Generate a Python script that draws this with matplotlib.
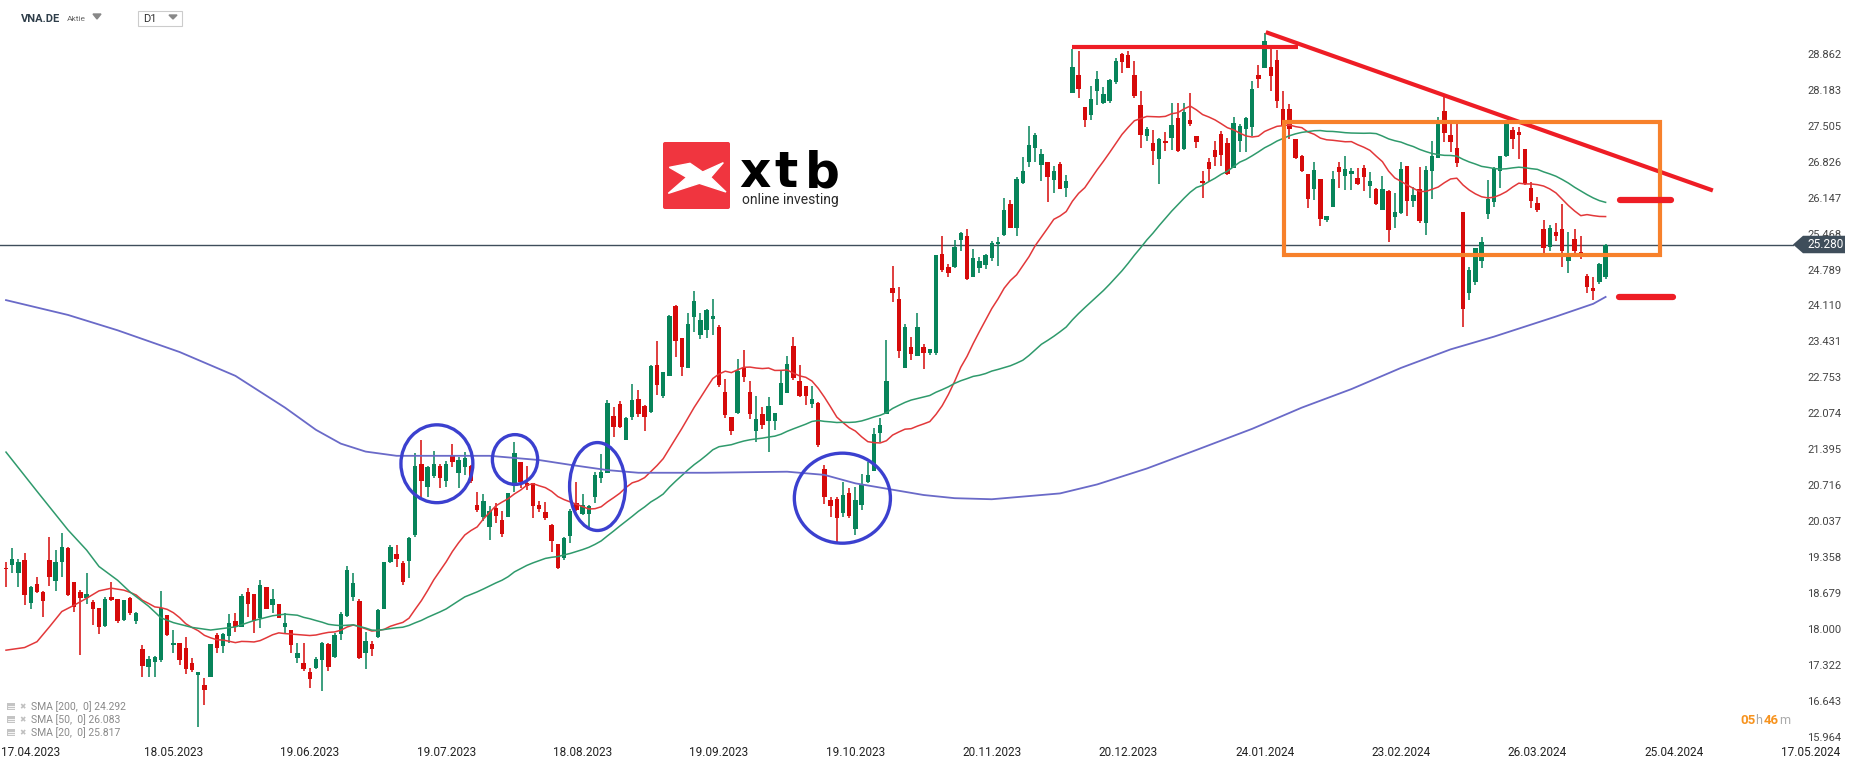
import numpy as np
import pandas as pd
import matplotlib
matplotlib.use('Agg')
import matplotlib.pyplot as plt
from matplotlib.patches import Ellipse, Rectangle, Polygon, FancyBboxPatch

plt.rcParams['font.family'] = ['Roboto', 'DejaVu Sans']

# daily candles VNA.DE
opens = [19.18, 19.23, 19.08, 19.32, 18.52, 18.87, 18.72, 19.32, 18.93, 19.29,
         19.55, 18.90, 18.72, 18.61, 18.53, 18.41, 18.08, 18.62, 18.59, 18.19,
         18.60, 18.18, 17.64, 17.31, 17.40, 17.43, 18.28, 17.71, 17.75, 17.67,
         17.37, 17.16, 16.96, 17.11, 17.91, 17.69, 17.89, 18.18, 18.06, 18.72,
         18.69, 18.22, 18.82, 18.47, 18.49, 18.05, 18.00, 17.48, 17.37, 17.20,
         17.28, 17.43, 17.74, 17.49, 17.93, 18.27, 18.62, 18.54, 17.57, 17.74,
         17.86, 18.39, 19.29, 19.44, 19.26, 19.31, 19.80, 21.14, 20.71, 20.91,
         21.10, 20.82, 21.31, 20.96, 21.07, 21.10, 20.36, 20.14, 19.95, 20.30,
         20.08, 20.14, 20.76, 21.18, 20.78, 20.77, 20.36, 20.23, 19.98, 19.63,
         19.36, 19.78, 20.39, 20.20, 20.20, 20.52, 20.88, 20.97, 22.04, 22.27,
         21.58, 22.03, 22.36, 22.23, 22.11, 23.01, 22.42, 22.80, 24.11, 23.51,
         22.94, 23.91, 23.57, 23.67, 23.87, 23.72, 22.50, 22.02, 22.09, 22.94,
         22.50, 21.75, 22.08, 21.95, 21.95, 22.25, 22.48, 23.36, 22.71, 22.61,
         22.27, 22.28, 21.05, 20.46, 20.47, 20.21, 20.58, 19.90, 20.36, 20.80,
         21.01, 21.73, 22.08, 24.45, 24.26, 22.94, 23.34, 23.18, 23.35, 23.24,
         23.24, 25.11, 24.85, 24.85, 25.37, 25.44, 24.67, 24.83, 24.89, 25.02,
         25.29, 25.46, 26.04, 25.60, 26.44, 26.84, 27.10, 26.78, 26.83, 26.49,
         26.80, 26.34, 28.15, 28.49, 27.88, 27.73, 28.18, 27.95, 27.99, 28.34,
         28.87, 28.85, 28.48, 27.91, 27.32, 27.19, 26.89, 27.23, 27.30, 27.66,
         27.08, 27.63, 27.32, 26.48, 26.83, 27.06, 27.36, 27.19, 26.73, 27.23,
         27.46, 27.49, 28.48, 28.61, 28.64, 28.76, 27.84, 27.84, 27.27, 26.96,
         26.62, 26.33, 26.52, 25.74, 25.98, 26.75, 26.58, 26.61, 26.54, 26.72,
         26.39, 26.33, 25.93, 26.29, 25.79, 25.87, 26.76, 26.11, 26.32, 25.69,
         26.66, 26.91, 27.80, 27.35, 27.11, 25.90, 24.36, 24.58, 24.97, 25.86,
         26.09, 26.66, 26.95, 27.45, 27.41, 27.08, 26.34, 26.06, 25.57, 25.23,
         25.52, 25.57, 24.97, 25.38, 25.14, 24.68, 24.45, 24.58, 24.66]
highs = [19.29, 19.54, 19.35, 19.45, 18.83, 19.00, 18.74, 19.76, 19.51, 19.83,
         19.57, 18.91, 18.76, 19.08, 18.57, 18.41, 18.63, 18.91, 18.59, 18.57,
         18.63, 18.35, 17.71, 17.51, 17.51, 18.74, 18.28, 18.00, 17.75, 17.86,
         17.47, 17.21, 17.09, 17.74, 17.94, 17.94, 18.30, 18.32, 18.69, 18.79,
         18.69, 18.95, 18.82, 18.77, 18.49, 18.32, 18.00, 17.76, 17.75, 17.28,
         17.50, 17.78, 17.75, 17.94, 18.35, 19.21, 19.08, 18.58, 17.97, 17.80,
         18.39, 19.29, 19.61, 19.61, 19.30, 19.76, 21.35, 21.59, 21.09, 21.38,
         21.14, 21.20, 21.51, 21.26, 21.37, 21.12, 20.61, 20.57, 20.34, 20.39,
         20.24, 20.59, 21.56, 21.18, 21.09, 20.77, 20.44, 20.41, 20.01, 19.63,
         19.76, 20.28, 20.80, 20.57, 20.36, 20.99, 21.32, 22.34, 22.22, 22.33,
         22.03, 22.65, 22.53, 22.25, 23.01, 23.46, 22.88, 23.95, 24.14, 23.51,
         23.98, 24.41, 23.98, 24.07, 24.26, 23.76, 22.74, 22.03, 23.11, 23.29,
         22.71, 22.41, 22.21, 22.40, 22.09, 22.90, 23.18, 23.53, 23.01, 22.61,
         22.61, 22.30, 21.12, 20.52, 20.52, 20.80, 20.68, 20.71, 20.95, 21.18,
         21.81, 22.00, 23.47, 24.87, 24.47, 23.78, 23.54, 23.98, 23.41, 23.30,
         25.08, 25.44, 24.91, 25.37, 25.52, 25.57, 25.19, 25.05, 25.10, 25.35,
         25.43, 26.15, 26.12, 26.56, 26.93, 27.52, 27.39, 27.08, 26.83, 26.76,
         26.84, 26.59, 28.97, 28.93, 27.88, 28.28, 28.56, 28.26, 28.40, 28.80,
         28.89, 28.93, 28.75, 28.18, 27.49, 27.44, 27.30, 27.41, 27.96, 27.96,
         27.95, 28.15, 27.32, 26.67, 26.91, 27.23, 27.42, 27.29, 27.69, 27.55,
         27.69, 28.36, 28.66, 29.27, 28.97, 28.95, 28.18, 27.93, 27.27, 26.97,
         26.62, 26.84, 26.52, 25.81, 26.67, 26.83, 26.96, 26.73, 26.73, 26.78,
         26.64, 26.35, 26.58, 26.31, 26.25, 26.83, 26.76, 26.36, 26.74, 26.76,
         27.24, 27.69, 28.07, 27.56, 27.56, 25.90, 24.86, 25.21, 25.43, 26.50,
         26.74, 26.95, 27.64, 27.49, 27.49, 27.08, 26.46, 26.17, 25.74, 25.65,
         25.69, 26.04, 25.52, 25.57, 25.44, 24.72, 24.66, 24.94, 25.29]
lows = [18.81, 19.08, 18.81, 18.47, 18.40, 18.70, 18.25, 18.83, 18.74, 19.01,
        18.65, 18.35, 17.53, 18.49, 18.10, 17.93, 18.05, 18.55, 18.13, 18.18,
        18.28, 18.11, 17.12, 17.12, 17.12, 17.40, 17.89, 17.57, 17.34, 17.17,
        17.21, 16.16, 16.59, 17.11, 17.57, 17.57, 17.75, 17.97, 18.05, 18.24,
        17.95, 18.03, 18.39, 18.32, 18.22, 17.94, 17.56, 17.38, 17.23, 16.90,
        17.26, 16.84, 17.23, 17.47, 17.81, 18.24, 18.54, 17.46, 17.27, 17.51,
        17.85, 18.39, 19.27, 19.19, 18.85, 18.99, 19.76, 20.47, 20.52, 20.88,
        20.68, 20.70, 21.07, 20.68, 20.93, 20.77, 20.22, 20.05, 19.70, 20.03,
        19.76, 20.13, 20.61, 20.68, 20.64, 20.11, 20.22, 20.07, 19.48, 19.15,
        19.32, 19.65, 20.24, 20.17, 19.92, 20.39, 20.78, 20.96, 21.64, 21.81,
        21.58, 21.97, 22.02, 21.76, 22.09, 22.44, 22.39, 22.80, 23.15, 22.79,
        22.94, 23.62, 23.50, 23.51, 23.57, 22.58, 22.00, 21.68, 22.08, 22.69,
        21.98, 21.56, 21.79, 21.37, 21.77, 22.25, 22.47, 22.73, 22.40, 22.25,
        22.19, 21.46, 20.38, 20.13, 19.64, 20.13, 20.11, 19.80, 20.27, 20.77,
        21.01, 21.56, 22.08, 24.20, 23.13, 22.94, 23.10, 23.18, 22.92, 23.20,
        23.20, 24.77, 24.67, 24.83, 25.15, 24.61, 24.67, 24.75, 24.81, 24.96,
        24.87, 25.44, 25.60, 25.44, 26.42, 26.75, 26.84, 26.47, 26.09, 26.26,
        26.33, 26.18, 28.15, 28.05, 27.50, 27.63, 27.91, 27.93, 27.95, 28.32,
        28.51, 28.61, 28.05, 27.11, 27.23, 26.78, 26.43, 27.05, 27.06, 27.03,
        27.06, 27.52, 27.11, 26.15, 26.47, 26.77, 26.77, 26.59, 26.72, 27.03,
        27.03, 27.32, 28.24, 28.61, 28.17, 27.85, 27.41, 27.28, 26.90, 26.64,
        25.97, 26.12, 25.62, 25.70, 25.98, 26.35, 26.31, 26.31, 26.40, 26.29,
        26.16, 26.03, 25.93, 25.33, 25.60, 25.85, 25.82, 25.99, 25.68, 25.46,
        26.13, 26.91, 27.22, 27.03, 26.74, 23.73, 24.23, 24.52, 24.83, 25.77,
        25.99, 26.34, 26.94, 27.09, 26.89, 26.40, 25.96, 25.90, 25.11, 25.15,
        25.35, 24.85, 24.74, 25.08, 25.00, 24.37, 24.24, 24.53, 24.62]
closes = [19.15, 19.34, 19.29, 18.66, 18.81, 18.71, 18.54, 19.01, 19.29, 19.57,
          18.66, 18.43, 18.60, 18.68, 18.39, 18.05, 18.59, 18.56, 18.18, 18.56,
          18.32, 18.33, 17.32, 17.45, 17.50, 18.41, 17.91, 17.75, 17.43, 17.26,
          17.25, 17.21, 16.86, 17.74, 17.66, 17.93, 18.13, 18.05, 18.64, 18.49,
          18.18, 18.85, 18.39, 18.58, 18.22, 18.13, 17.72, 17.56, 17.26, 17.08,
          17.45, 17.75, 17.31, 17.91, 18.30, 19.13, 18.89, 17.47, 17.80, 17.65,
          18.38, 19.29, 19.56, 19.34, 18.90, 19.73, 21.09, 20.82, 21.07, 21.14,
          20.88, 21.13, 21.18, 21.21, 21.24, 20.82, 20.26, 20.44, 20.25, 20.15,
          19.81, 20.59, 21.35, 20.80, 20.72, 20.34, 20.28, 20.11, 19.69, 19.17,
          19.73, 20.25, 20.26, 20.36, 20.34, 20.93, 20.99, 22.28, 21.83, 21.83,
          22.00, 22.34, 22.08, 22.03, 22.99, 22.63, 22.88, 23.93, 23.45, 22.96,
          23.78, 24.22, 23.86, 24.04, 23.93, 22.63, 22.06, 21.75, 22.90, 22.77,
          22.08, 21.98, 21.87, 22.23, 22.09, 22.66, 23.02, 22.75, 22.41, 22.41,
          22.36, 21.50, 20.51, 20.34, 20.11, 20.55, 20.15, 20.46, 20.74, 20.93,
          21.70, 21.87, 22.71, 24.36, 23.26, 23.72, 23.21, 23.72, 23.23, 23.30,
          25.08, 24.79, 24.75, 25.24, 25.49, 24.62, 25.02, 24.97, 25.08, 25.30,
          25.33, 25.94, 25.60, 26.51, 26.67, 27.16, 27.35, 26.99, 26.55, 26.67,
          26.33, 26.48, 28.64, 28.22, 27.63, 28.03, 28.41, 28.12, 28.39, 28.75,
          28.73, 28.62, 28.09, 27.34, 27.47, 27.05, 27.28, 27.19, 27.54, 27.05,
          27.78, 27.55, 27.21, 26.44, 26.71, 26.94, 26.97, 26.61, 27.57, 27.52,
          27.66, 28.22, 28.41, 29.12, 28.47, 27.99, 27.52, 27.46, 26.91, 26.67,
          26.14, 26.69, 25.76, 25.81, 26.52, 26.64, 26.71, 26.66, 26.42, 26.56,
          26.47, 26.04, 26.33, 25.55, 25.89, 26.71, 26.11, 26.21, 25.73, 26.69,
          26.95, 27.55, 27.39, 27.22, 26.82, 24.07, 24.80, 25.21, 25.33, 26.13,
          26.72, 26.95, 27.55, 27.27, 27.35, 26.42, 26.11, 25.94, 25.21, 25.59,
          25.44, 25.15, 25.04, 25.16, 25.05, 24.47, 24.41, 24.91, 25.28]

# moving averages where the chart shows values older than the candles (candle index, value)
sma200_idx = [0, 10, 18, 28, 37, 45, 50, 54, 58, 63, 70, 78, 86, 91, 97, 102, 113, 126, 132,
              137, 143, 148, 153, 159, 164, 170, 176, 184, 192, 201, 209, 217, 225, 233,
              240, 245, 250, 256, 258]
sma200_val = [24.23, 23.95, 23.66, 23.25, 22.80, 22.20, 21.78, 21.52, 21.37, 21.29, 21.29,
              21.29, 21.21, 21.12, 21.02, 20.97, 20.97, 20.99, 20.93, 20.77, 20.65, 20.55,
              20.49, 20.47, 20.52, 20.58, 20.75, 21.05, 21.40, 21.80, 22.20, 22.55, 22.95,
              23.30, 23.54, 23.73, 23.92, 24.16, 24.29]
sma50_head_idx = [0, 5, 10, 13, 15, 18, 20, 23, 25, 27, 30, 33, 37, 40, 43, 45, 47, 48]
sma50_head_val = [21.36, 20.62, 19.89, 19.51, 19.20, 18.94, 18.72, 18.45, 18.23, 18.14,
                  18.05, 18.00, 18.06, 18.18, 18.27, 18.30, 18.28, 18.24]
sma20_head_idx = [0, 3, 5, 7, 9, 11, 13, 15, 17]
sma20_head_val = [17.62, 17.67, 17.78, 18.06, 18.35, 18.47, 18.60, 18.74, 18.79]

last_price = 25.280
price_ticks = ['28.862', '28.183', '27.505', '26.826', '26.147', '25.468', '24.789',
               '24.110', '23.431', '22.753', '22.074', '21.395', '20.716', '20.037',
               '19.358', '18.679', '18.000', '17.322', '16.643', '15.964']
date_ticks = ['17.04.2023', '18.05.2023', '19.06.2023', '19.07.2023', '18.08.2023',
              '19.09.2023', '19.10.2023', '20.11.2023', '20.12.2023', '24.01.2024',
              '23.02.2024', '26.03.2024', '25.04.2024', '17.05.2024']
legend_rows = ['SMA [200,  0] 24.292', 'SMA [50,  0] 26.083', 'SMA [20,  0] 25.817']

# drawn analysis (candle index, price)
resistance = [(171.9, 29.00), (208.4, 29.00)]
trendline = [(203.2, 29.29), (275.3, 26.30)]
range_box = [(206.1, 25.08), (266.8, 27.60)]
targets = [(260.3, 268.6, 26.12), (260.1, 268.8, 24.28)]
circles = [(69.5, 21.14, 11.6, 1.47), (82.1, 21.22, 7.3, 0.94),
           (95.4, 20.71, 9.0, 1.66), (134.9, 20.49, 15.5, 1.70)]

GREEN = '#07845a'
RED = '#d60a0a'
SLATE = '#3f4e5b'

o = np.array(opens); h = np.array(highs); l = np.array(lows); c = np.array(closes)
n = len(c)
x = np.arange(n)

# trading calendar for the date axis, calendar days after the last candle
holidays = ['2023-12-25', '2023-12-26', '2024-01-01', '2024-03-29', '2024-04-01']
days = pd.bdate_range('2023-04-11', periods=n, freq='C', holidays=holidays)
def date_pos(s):
    d = pd.to_datetime(s, format='%d.%m.%Y')
    if d <= days[-1]:
        return int(days.searchsorted(d))
    return n - 3 + (d - days[-1]).days

W, H = 1866, 767
fig = plt.figure(figsize=(W / 100, H / 100), dpi=100)
ax = fig.add_axes([0, 0, 1, 1])
ax.set_xlim(-6 / 6.2, (W - 6) / 6.2)
ax.set_ylim(28.862 - (H - 54.8) / 52.96, 28.862 + 54.8 / 52.96)
ax.axis('off')

# candles
col = np.where(c >= o, GREEN, RED)
ax.vlines(x, l, h, colors=col, lw=1.1, zorder=3)
ax.bar(x, np.maximum(np.abs(c - o), 0.025), bottom=np.minimum(o, c), width=0.74,
       color=col, linewidth=0, zorder=4)

# moving averages
s20 = pd.Series(c).rolling(20).mean()
s50 = pd.Series(c).rolling(50).mean()
ax.plot(sma20_head_idx + list(x[19:]), sma20_head_val + list(s20[19:]), color='#e2383a', lw=1.1, zorder=5)
ax.plot(sma50_head_idx + list(x[49:]), sma50_head_val + list(s50[49:]), color='#2f9a6c', lw=1.1, zorder=5)
ax.plot(sma200_idx, sma200_val, color='#6a6ac8', lw=1.3, zorder=5)

# last price line
ax.axhline(last_price, xmin=0, xmax=1793 / W, color=SLATE, lw=1, zorder=2)

# analysis drawings
ax.plot(*zip(*resistance), color='#ee1d25', lw=3, solid_capstyle='butt', zorder=6)
ax.plot(*zip(*trendline), color='#ee1d25', lw=3, solid_capstyle='butt', zorder=6)
(bx0, by0), (bx1, by1) = range_box
ax.add_patch(Rectangle((bx0, by0), bx1 - bx0, by1 - by0, fill=False, edgecolor='#f7812b', lw=3, zorder=6))
for xa, xb, p in targets:
    ax.plot([xa, xb], [p, p], color='#ee1d25', lw=4.5, solid_capstyle='round', zorder=6)
for cx, cy, w, hh in circles:
    ax.add_patch(Ellipse((cx, cy), w, hh, fill=False, edgecolor='#3b40cf', lw=2.4, zorder=6))

# right price scale
ty = ax.get_yaxis_transform()
for t in price_ticks:
    ax.text(1807 / W, float(t), t, transform=ty, fontsize=8, color='#444444', va='center', ha='left')
ax.add_patch(Polygon([(1793 / W, last_price), (1803 / W, last_price + 0.165), (1845 / W, last_price + 0.165),
                      (1845 / W, last_price - 0.165), (1803 / W, last_price - 0.165)],
                     closed=True, transform=ty, facecolor=SLATE, edgecolor='none', zorder=8))
ax.text(1807 / W, last_price, '%.3f' % last_price, transform=ty, fontsize=8.5, color='white',
        va='center', ha='left', zorder=9)

# date axis
tx = ax.get_xaxis_transform()
for t in date_ticks:
    ax.text(date_pos(t), 1 - 752 / H, t, transform=tx, fontsize=8.5, color='#222222', ha='center', va='center')

# overlay in pixel coordinates for header, legend, logo
ov = fig.add_axes([0, 0, 1, 1])
ov.set_xlim(0, W)
ov.set_ylim(H, 0)
ov.axis('off')
ov.patch.set_alpha(0)

ov.text(21, 19, 'VNA.DE', fontsize=8, fontweight='bold', color='#2f3e4a', va='center')
ov.text(67, 19, 'Aktie', fontsize=6, color='#666666', va='center')
ov.add_patch(Polygon([(93, 14), (101, 14), (97, 19)], color='#888888'))
ov.add_patch(Rectangle((138, 11), 44, 15, facecolor='white', edgecolor='#cccccc', lw=0.8))
ov.text(143, 19, 'D1', fontsize=8, color='#333333', va='center')
ov.add_patch(Polygon([(169, 15), (177, 15), (173, 19)], color='#888888'))

for k, row in enumerate(legend_rows):
    yy = 707 + 13 * k
    ov.add_patch(Rectangle((7, yy - 4), 8, 7, facecolor='#c4c4c4', edgecolor='none'))
    for dy in (-1.5, 1.0):
        ov.plot([8, 14], [yy + dy, yy + dy], color='white', lw=0.6)
    ov.text(23, yy, '\u2716', fontsize=5.5, color='#c0c0c0', va='center', ha='center', family='DejaVu Sans')
    ov.text(31, yy, row, fontsize=7.5, color='#8a8a8a', va='center')

# countdown
ov.text(1740, 721, '05', fontsize=9.5, color='#f7931e', fontweight='bold', va='center')
ov.text(1755, 721, 'h', fontsize=9, color='#aaaaaa', va='center')
ov.text(1764, 721, '46', fontsize=9.5, color='#f7931e', fontweight='bold', va='center')
ov.text(1779, 721, 'm', fontsize=9, color='#aaaaaa', va='center')

# xtb logo
ov.add_patch(FancyBboxPatch((663, 142), 67, 67, boxstyle='round,pad=0,rounding_size=2',
                            facecolor='#f0353f', edgecolor='none'))
mark = [(88, 112), (150, 100), (188, 126), (250, 98), (212, 142), (258, 186), (178, 160),
        (85, 190), (140, 142)]
ov.add_patch(Polygon([(640 + a / 3, 130 + b / 3) for a, b in mark], color='white'))
for ch, xx in zip('xtb', (739, 774, 805)):
    ov.text(xx, 187, ch, fontsize=35, fontweight='bold', color='black', va='baseline', ha='left',
            family='DejaVu Sans')
ov.text(742, 204, 'online investing', fontsize=10, color='#2a2a2a', va='baseline', ha='left')

fig.savefig('out.png', dpi=100, facecolor='white')
